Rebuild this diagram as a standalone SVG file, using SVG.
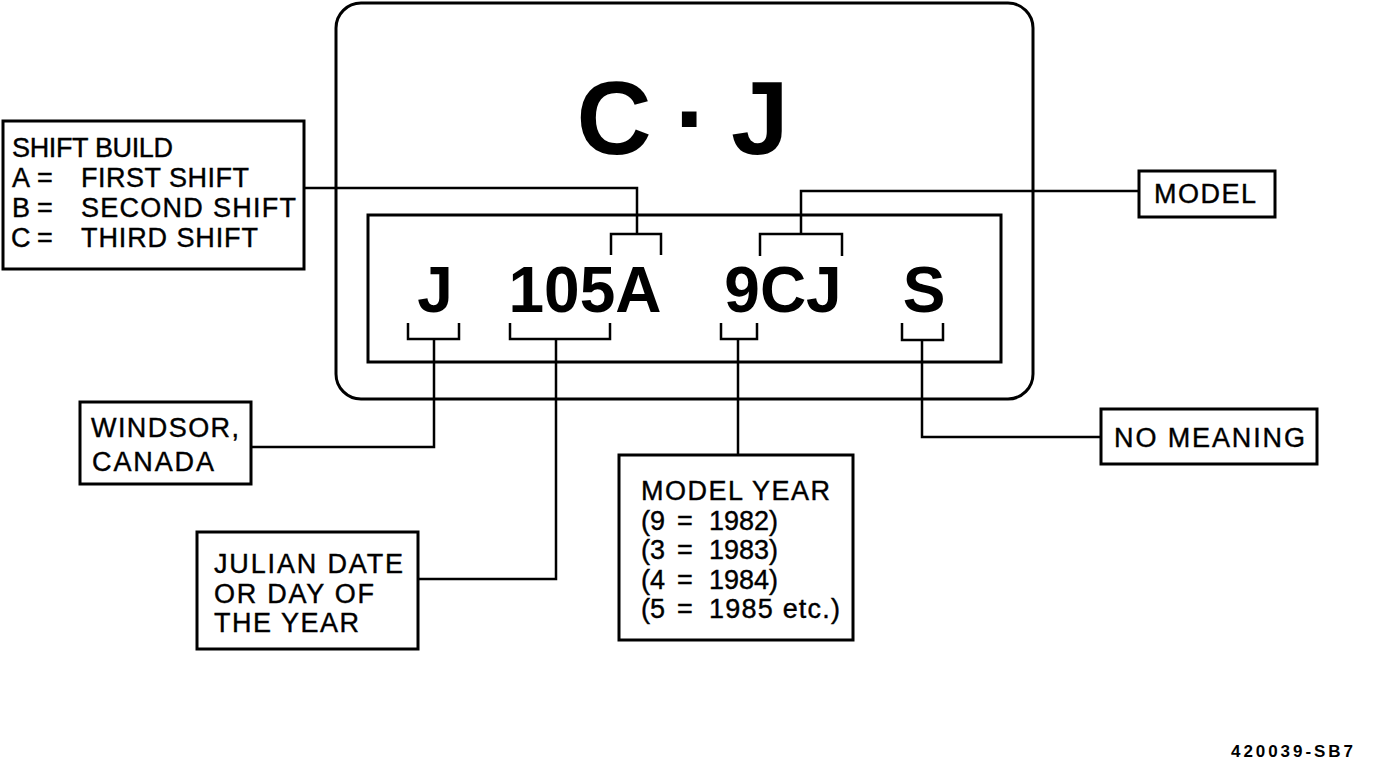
<svg xmlns="http://www.w3.org/2000/svg" width="1376" height="760" viewBox="0 0 1376 760">
<style>
.box{fill:none;stroke:#000;stroke-width:3}
.ln{fill:none;stroke:#000;stroke-width:2.5;stroke-linejoin:miter}
.t{font-family:"Liberation Sans",Arial,sans-serif;font-size:27px;fill:#000;stroke:#000;stroke-width:0.4}
.code{font-family:"Liberation Sans",Arial,sans-serif;font-weight:bold;font-size:64px;fill:#000;text-anchor:middle}
.big{font-family:"Liberation Sans",Arial,sans-serif;font-weight:bold;font-size:104px;fill:#000;text-anchor:middle}
</style>
<rect width="1376" height="760" fill="#fff"/>
<g id="plate">
<rect x="336" y="3" width="697" height="396" rx="25" ry="25" class="box" stroke-width="3.5"/>
<rect x="368" y="215" width="633" height="147" class="box"/>
<text class="big" x="614" y="154">C</text>
<text class="big" x="692" y="154" font-size="112">·</text>
<text class="big" x="760" y="154">J</text>
<text class="code" x="435" y="312">J</text>
<text class="code" x="585" y="312">105A</text>
<text class="code" x="783" y="312">9CJ</text>
<text class="code" x="924" y="312">S</text>
</g>
<g id="connectors">
<path class="ln" d="M611,255 V234 H661 V255"/>
<path class="ln" d="M304,188 H637 V234"/>
<path class="ln" d="M760,256 V234 H842 V256"/>
<path class="ln" d="M1138,191 H801 V234"/>
<path class="ln" d="M408,323 V339 H459 V323"/>
<path class="ln" d="M252,447 H434 V339"/>
<path class="ln" d="M510,323 V339 H610 V323"/>
<path class="ln" d="M418,579 H556 V339"/>
<path class="ln" d="M721,323 V339 H757 V323"/>
<path class="ln" d="M738,339 V455"/>
<path class="ln" d="M902,323 V340 H943 V323"/>
<path class="ln" d="M922,340 V437 H1100"/>
</g>
<g id="shift-build">
<rect x="3" y="121" width="301" height="148" class="box"/>
<text class="t" x="12" y="157" font-size="26" textLength="161" lengthAdjust="spacing">SHIFT BUILD</text>
<text class="t" y="187" font-size="26"><tspan x="12">A</tspan><tspan x="37">=</tspan><tspan x="81" textLength="168" lengthAdjust="spacing">FIRST SHIFT</tspan></text>
<text class="t" y="217" font-size="26"><tspan x="12">B</tspan><tspan x="37">=</tspan><tspan x="81" textLength="215" lengthAdjust="spacing">SECOND SHIFT</tspan></text>
<text class="t" y="247" font-size="26"><tspan x="11">C</tspan><tspan x="37">=</tspan><tspan x="81" textLength="177" lengthAdjust="spacing">THIRD SHIFT</tspan></text>
</g>
<g id="model">
<rect x="1139" y="171" width="136" height="46" class="box"/>
<text class="t" x="1154" y="203" textLength="102" lengthAdjust="spacing">MODEL</text>
</g>
<g id="windsor">
<rect x="80" y="402" width="171" height="82" class="box"/>
<text class="t" x="91" y="437" textLength="148" lengthAdjust="spacing">WINDSOR,</text>
<text class="t" x="92" y="471" textLength="122" lengthAdjust="spacing">CANADA</text>
</g>
<g id="julian">
<rect x="197" y="532" width="221" height="117" class="box"/>
<text class="t" x="214" y="573" textLength="189" lengthAdjust="spacing">JULIAN DATE</text>
<text class="t" x="214" y="603" textLength="160" lengthAdjust="spacing">OR DAY OF</text>
<text class="t" x="214" y="632" textLength="145" lengthAdjust="spacing">THE YEAR</text>
</g>
<g id="model-year">
<rect x="619" y="455" width="234" height="185" class="box"/>
<text class="t" x="641" y="500" textLength="189" lengthAdjust="spacing">MODEL YEAR</text>
<text class="t" y="530"><tspan x="641">(9</tspan><tspan x="677">=</tspan><tspan x="709">1982)</tspan></text>
<text class="t" y="559"><tspan x="641">(3</tspan><tspan x="677">=</tspan><tspan x="709">1983)</tspan></text>
<text class="t" y="589"><tspan x="641">(4</tspan><tspan x="677">=</tspan><tspan x="709">1984)</tspan></text>
<text class="t" y="618"><tspan x="641">(5</tspan><tspan x="677">=</tspan><tspan x="709" textLength="131" lengthAdjust="spacing">1985 etc.)</tspan></text>
</g>
<g id="no-meaning">
<rect x="1101" y="409" width="216" height="55" class="box"/>
<text class="t" x="1114" y="447" textLength="191" lengthAdjust="spacing">NO MEANING</text>
</g>
<g id="footer">
<text x="1231" y="757" font-family="Liberation Sans, Arial, sans-serif" font-weight="bold" font-size="17" textLength="122" lengthAdjust="spacing">420039-SB7</text>
</g>
</svg>
